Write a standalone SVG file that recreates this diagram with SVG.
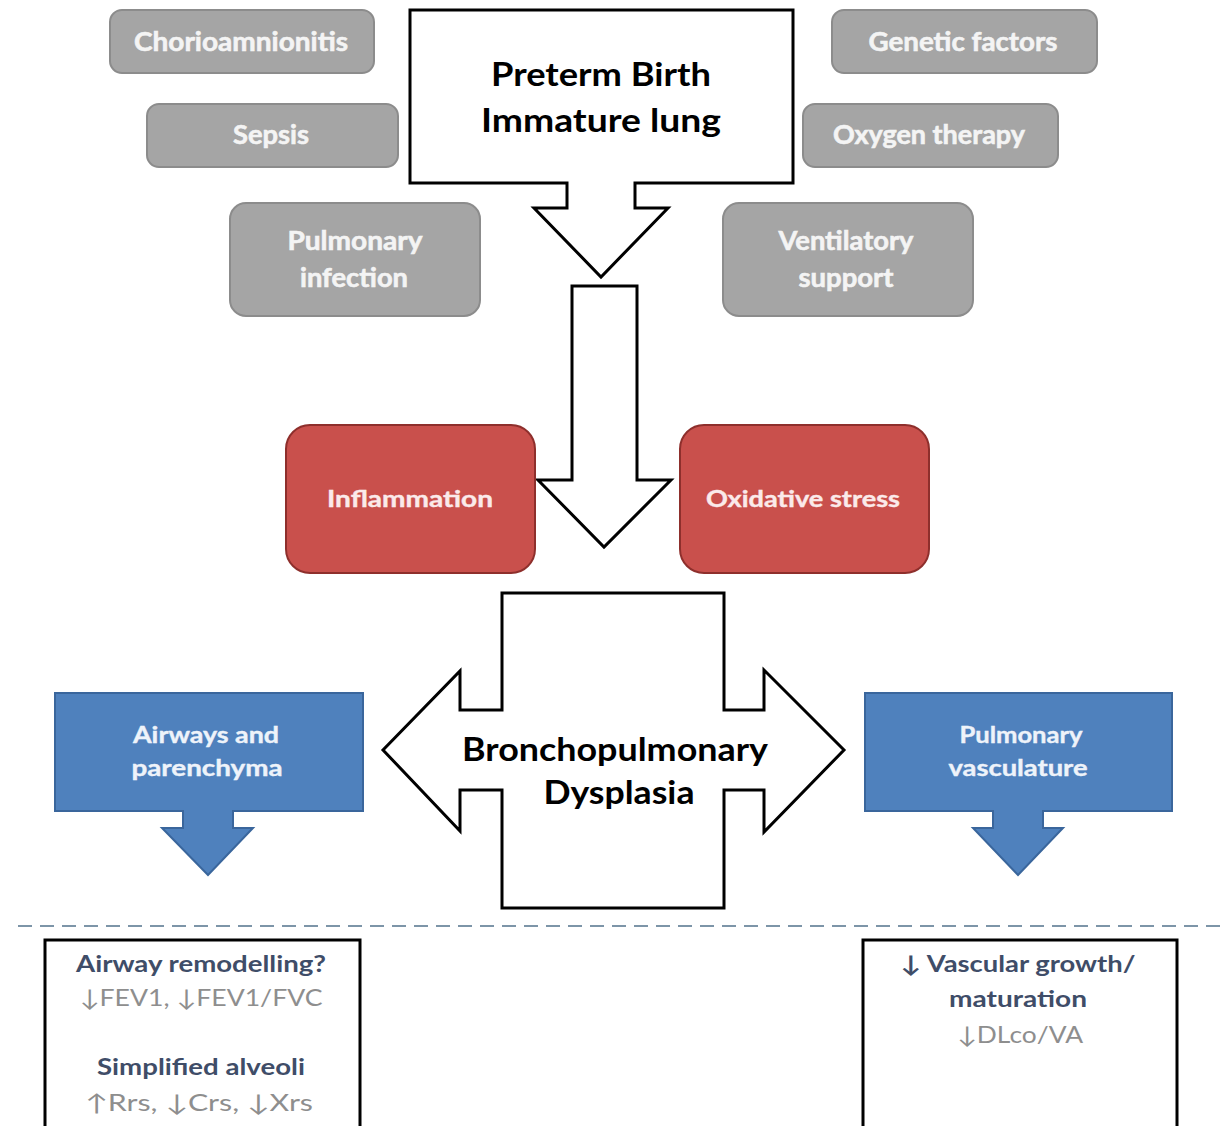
<svg xmlns="http://www.w3.org/2000/svg" width="1227" height="1126" viewBox="0 0 1227 1126">
<style>
text{font-family:Lato,"DejaVu Sans","Liberation Sans",sans-serif;font-weight:bold;text-anchor:middle}
.gray rect{fill:#a5a5a5;stroke:#8c8c8c;stroke-width:2}
.gray text{fill:#f4f4f4;font-size:26px;stroke:#f4f4f4;stroke-width:0.6}
.red rect{fill:#c9504c;stroke:#8e2f2c;stroke-width:2}
.red text{fill:#fbeaea;font-size:23px;stroke:#fbeaea;stroke-width:0.4}
.blue path{fill:#4f81bd;stroke:#3a669c;stroke-width:2}
.blue text{fill:#eef3fa;font-size:23px;stroke:#eef3fa;stroke-width:0.4}
.outline{fill:#fff;stroke:#000;stroke-width:3;stroke-linejoin:miter}
.big{fill:#000;font-size:33px}
.res rect{fill:#fff;stroke:#000;stroke-width:3}
.h{fill:#3f4d68;font-size:23px}
.v{fill:#8e8e8e;font-size:23px;font-weight:normal}
</style>
<rect width="1227" height="1126" fill="#fff"/>
<g id="connectors">
<path id="arrow-down" class="outline" d="M572,286 H637 V480 H671 L604,547 L538,480 H572 Z"/>
<line id="divider" x1="18" y1="926" x2="1227" y2="926" stroke="#7d95a8" stroke-width="2" stroke-dasharray="14 8"/>
</g>
<g id="chorioamnionitis" class="gray"><rect x="110" y="10" width="264" height="63" rx="12"/><text x="241" y="51" textLength="214" lengthAdjust="spacingAndGlyphs">Chorioamnionitis</text></g>
<g id="sepsis" class="gray"><rect x="147" y="104" width="251" height="63" rx="12"/><text x="271" y="144" textLength="76" lengthAdjust="spacingAndGlyphs">Sepsis</text></g>
<g id="pulmonary-infection" class="gray"><rect x="230" y="203" width="250" height="113" rx="16"/><text x="355" y="250" textLength="135" lengthAdjust="spacingAndGlyphs">Pulmonary</text><text x="354" y="287" textLength="108" lengthAdjust="spacingAndGlyphs">infection</text></g>
<g id="genetic-factors" class="gray"><rect x="832" y="10" width="265" height="63" rx="12"/><text x="963" y="51" textLength="189" lengthAdjust="spacingAndGlyphs">Genetic factors</text></g>
<g id="oxygen-therapy" class="gray"><rect x="803" y="104" width="255" height="63" rx="12"/><text x="929" y="144" textLength="192" lengthAdjust="spacingAndGlyphs">Oxygen therapy</text></g>
<g id="ventilatory-support" class="gray"><rect x="723" y="203" width="250" height="113" rx="16"/><text x="846" y="250" textLength="135" lengthAdjust="spacingAndGlyphs">Ventilatory</text><text x="846" y="287" textLength="95" lengthAdjust="spacingAndGlyphs">support</text></g>
<g id="preterm-birth"><path class="outline" d="M410,10 H793 V183 H635 V208 H668 L601,277 L534,208 H567 V183 H410 Z"/><text class="big" x="601" y="86" textLength="220" lengthAdjust="spacingAndGlyphs">Preterm Birth</text><text class="big" x="601" y="132" textLength="240" lengthAdjust="spacingAndGlyphs">Immature lung</text></g>
<g id="inflammation" class="red"><rect x="286" y="425" width="249" height="148" rx="24"/><text x="410" y="507" textLength="166" lengthAdjust="spacingAndGlyphs">Inflammation</text></g>
<g id="oxidative-stress" class="red"><rect x="680" y="425" width="249" height="148" rx="24"/><text x="803" y="507" textLength="194" lengthAdjust="spacingAndGlyphs">Oxidative stress</text></g>
<g id="bpd"><path class="outline" d="M502,593 H724 V710 H764 V670 L844,750 L764,832 V790 H724 V908 H502 V790 H460 V831 L383,750 L460,671 V710 H502 Z"/><text class="big" x="615" y="761" textLength="306" lengthAdjust="spacingAndGlyphs">Bronchopulmonary</text><text class="big" x="619" y="804" textLength="151" lengthAdjust="spacingAndGlyphs">Dysplasia</text></g>
<g id="airways" class="blue"><path d="M55,693 H363 V811 H233 V828 H253 L208,875 L162,828 H183 V811 H55 Z"/><text x="206" y="743" textLength="146" lengthAdjust="spacingAndGlyphs">Airways and</text><text x="207" y="776" textLength="151" lengthAdjust="spacingAndGlyphs">parenchyma</text></g>
<g id="vasculature" class="blue"><path d="M865,693 H1172 V811 H1043 V828 H1063 L1018,875 L973,828 H993 V811 H865 Z"/><text x="1021" y="743" textLength="123" lengthAdjust="spacingAndGlyphs">Pulmonary</text><text x="1018" y="776" textLength="139" lengthAdjust="spacingAndGlyphs">vasculature</text></g>
<g id="airway-findings" class="res"><rect x="45" y="940" width="315" height="200"/>
<text class="h" x="201" y="972" textLength="250" lengthAdjust="spacingAndGlyphs">Airway remodelling?</text>
<text class="v" x="201" y="1006" textLength="243" lengthAdjust="spacingAndGlyphs">↓FEV1, ↓FEV1/FVC</text>
<text class="h" x="201" y="1075" textLength="208" lengthAdjust="spacingAndGlyphs">Simplified alveoli</text>
<text class="v" x="199" y="1111" textLength="228" lengthAdjust="spacingAndGlyphs">↑Rrs, ↓Crs, ↓Xrs</text></g>
<g id="vascular-findings" class="res"><rect x="863" y="940" width="314" height="200"/>
<text class="h" x="1018" y="972" textLength="235" lengthAdjust="spacingAndGlyphs">↓ Vascular growth/</text>
<text class="h" x="1018" y="1007" textLength="138" lengthAdjust="spacingAndGlyphs">maturation</text>
<text class="v" x="1020" y="1043" textLength="126" lengthAdjust="spacingAndGlyphs">↓DLco/VA</text></g>
</svg>
